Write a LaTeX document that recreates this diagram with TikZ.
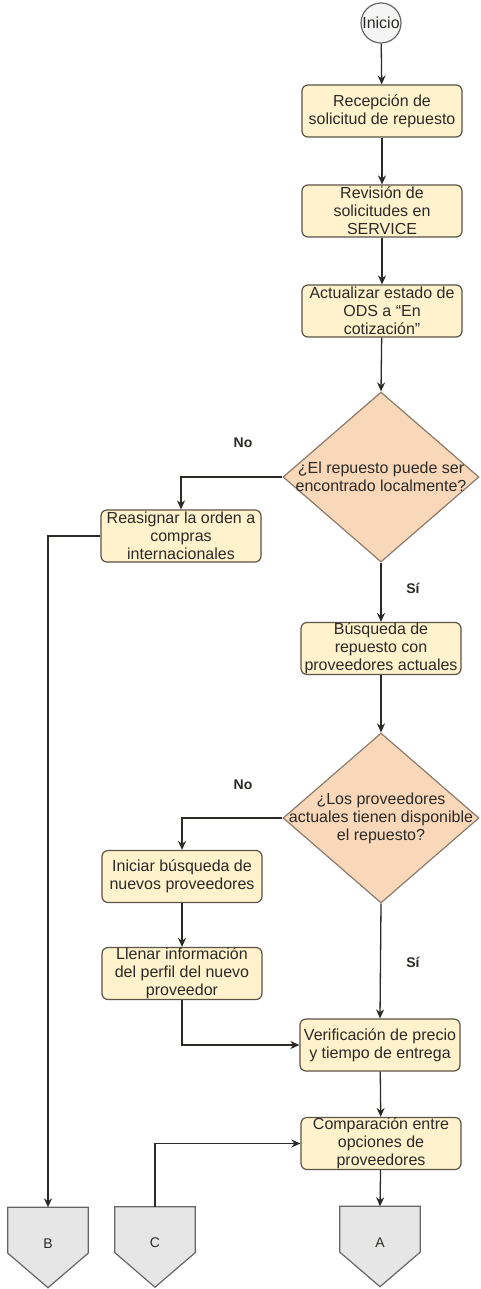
\documentclass[tikz,border=0pt]{standalone}
\usepackage{fontspec}
\setmainfont{Liberation Sans}
\usetikzlibrary{shapes.geometric,arrows.meta,calc}
\pgfdeclarelayer{background}
\pgfsetlayers{background,main}
\definecolor{boxfill}{HTML}{FFF2CC}
\definecolor{boxline}{HTML}{5C5446}
\definecolor{decfill}{HTML}{F9D7B9}
\definecolor{decline}{HTML}{8C7B6B}
\definecolor{offfill}{HTML}{E6E6E6}
\definecolor{offline}{HTML}{666666}
\definecolor{startfill}{HTML}{F5F5F5}
\definecolor{txt}{HTML}{2B2A26}

\begin{document}
\begin{tikzpicture}[x=1pt,y=-1pt,
  every node/.style={font=\fontsize{16}{18}\selectfont, text=txt},
  stepbox/.style={draw=boxline, fill=boxfill, rounded corners=6pt, line width=1.2pt,
    minimum width=160pt, minimum height=52pt, align=center, inner sep=0pt},
  decision/.style={diamond, draw=decline, fill=decfill, line width=1.2pt,
    minimum width=196pt, minimum height=170pt, inner sep=0pt},
  dectext/.style={align=center, inner sep=0pt},
  startnode/.style={circle, draw=offline, fill=startfill, line width=1.2pt,
    minimum size=40pt, inner sep=0pt},
  offpage/.style={minimum width=80pt, minimum height=80pt, inner sep=0pt,
    font=\fontsize{14}{16}\selectfont},
  offshape/.style={draw=offline, fill=offfill, line width=1.2pt},
  lbl/.style={font=\bfseries\fontsize{14}{16}\selectfont, inner sep=0pt},
  flow/.style={draw=txt, line width=1.3pt, -{Stealth[length=9pt,width=8pt]}},
]
\useasboundingbox (0,0) rectangle (480,1289);

% --- main column ---
\node[startnode] (start) at (381,23) {Inicio};
\node[stepbox] (rec) at (382,111) {Recepción de\\solicitud de repuesto};
\node[stepbox] (rev) at (382,211) {Revisión de\\solicitudes en\\SERVICE};
\node[stepbox] (act) at (382,311) {Actualizar estado de\\ODS a “En\\cotización”};
\node[decision] (d1) at (381,477) {};
\node[dectext] (d1t) at (d1.center) {¿El repuesto puede ser\\encontrado localmente?};
\node[stepbox] (bus) at (381,648.5) {Búsqueda de\\repuesto con\\proveedores actuales};
\node[decision] (d2) at (381,818) {};
\node[dectext] (d2t) at (d2.center) {¿Los proveedores\\actuales tienen disponible\\el repuesto?};
\node[stepbox] (ver) at (380,1045) {Verificación de precio\\y tiempo de entrega};
\node[stepbox] (com) at (381,1143.5) {Comparación entre\\opciones de\\proveedores};

% --- left column ---
\node[stepbox] (reas) at (181,536) {Reasignar la orden a\\compras\\internacionales};
\node[stepbox] (ini) at (182,876.5) {Iniciar búsqueda de\\nuevos proveedores};
\node[stepbox] (lle) at (182,973.5) {Llenar información\\del perfil del nuevo\\proveedor};

% --- off-page connectors ---
\node[offpage] (B) at (48,1247.5) {};
\node[offpage] (C) at (155,1247) {};
\node[offpage] (A) at (380,1246.5) {};
\begin{pgfonlayer}{background}
  \fill[white] (0,0) rectangle (480,1289);
  \foreach \n in {A,B,C}
    \draw[offshape] (\n.north west) -- (\n.north east)
      -- ($(\n.north east)!0.57!(\n.south east)$) -- (\n.south)
      -- ($(\n.north west)!0.57!(\n.south west)$) -- cycle;
\end{pgfonlayer}
\node[offpage] (Bt) at ([yshift=4pt]B.center) {B};
\node[offpage] (Ct) at ([yshift=4pt]C.center) {C};
\node[offpage] (At) at ([yshift=4pt]A.center) {A};

% --- branch labels ---
\node[lbl] (no1) at (243,443) {No};
\node[lbl] (si1) at (413,588) {Sí};
\node[lbl] (no2) at (243,785) {No};
\node[lbl] (si2) at (413,962) {Sí};

% --- connectors ---
\draw[flow] (start) -- (rec);
\draw[flow] (rec) -- (rev);
\draw[flow] (rev) -- (act);
\draw[flow] (act) -- (d1.north);
\draw[flow] (d1.west) -| (reas.north);
\draw[flow] (reas.west) -| (B.north);
\draw[flow] (d1.south) -- (bus.north);
\draw[flow] (bus) -- (d2.north);
\draw[flow] (d2.west) -| (ini.north);
\draw[flow] (ini) -- (lle);
\draw[flow] (lle.south) |- (ver.west);
\draw[flow] (d2.south) -- (ver.north);
\draw[flow] (ver) -- (com);
\draw[flow] (C.north) |- (com.west);
\draw[flow] (com) -- (A.north);
\end{tikzpicture}
\end{document}
